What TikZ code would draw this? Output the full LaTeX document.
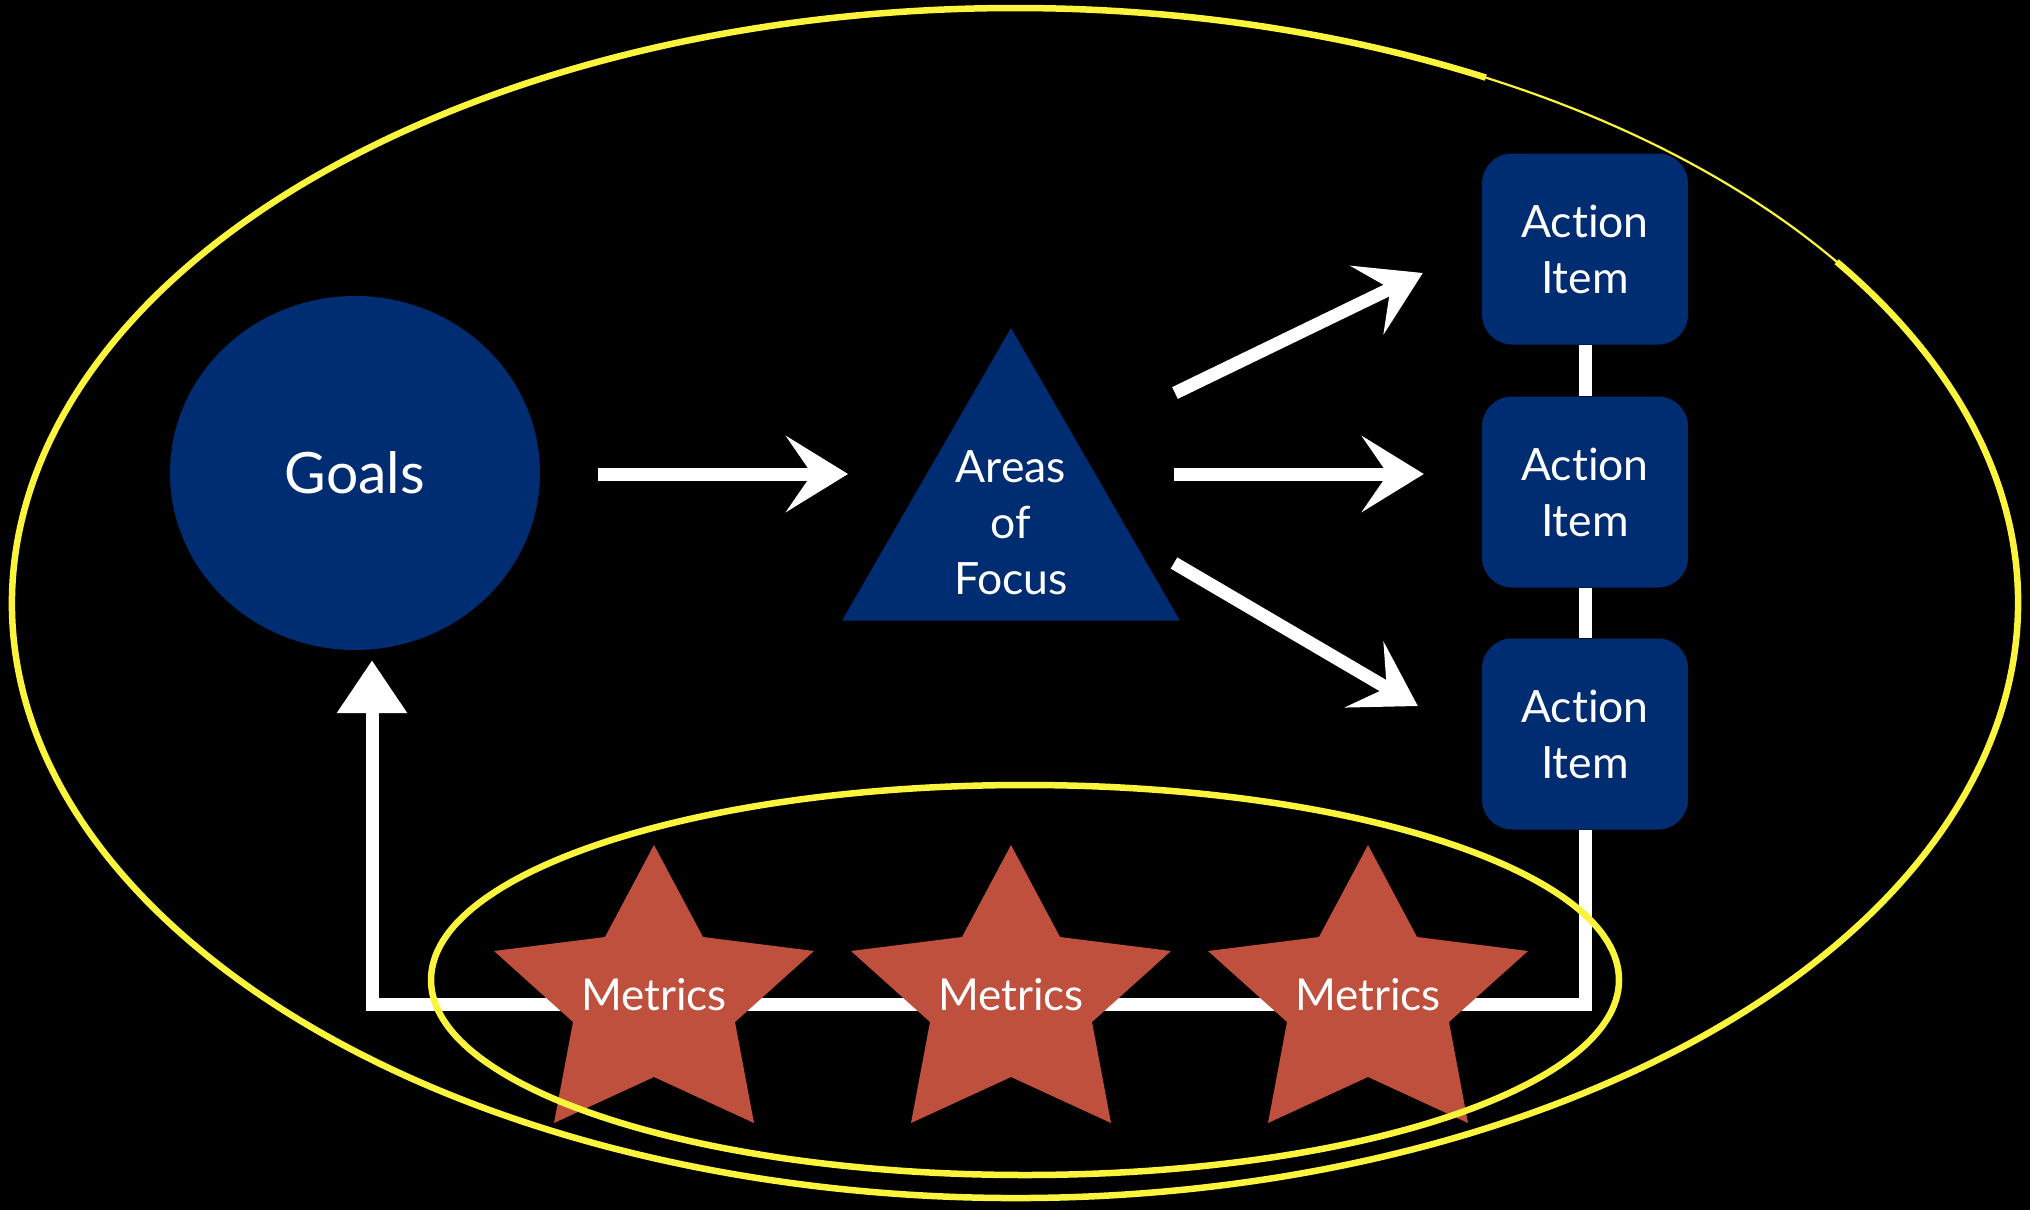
\documentclass[tikz,border=0pt]{standalone}
\usepackage{fontspec}
\setmainfont{Lato}[Ligatures=NoCommon]
\usetikzlibrary{shapes.geometric, arrows.meta, calc}

\definecolor{navy}{RGB}{0,45,114}
\definecolor{brick}{RGB}{192,80,62}
\definecolor{marker}{RGB}{250,245,60}

\tikzset{
  caption/.style={text=white, align=center, inner sep=0pt,
    font=\fontsize{44.5}{56}\selectfont},
  goalshape/.style={ellipse, fill=navy, minimum width=370pt, minimum height=354pt,
    inner sep=0pt, text=white, font=\fontsize{57}{66}\selectfont},
  focusshape/.style={regular polygon, regular polygon sides=3, fill=navy,
    minimum size=390pt, inner sep=0pt},
  actionbox/.style={rectangle, rounded corners=30pt, fill=navy,
    minimum width=206pt, minimum height=191pt, inner sep=0pt, caption},
  metricstar/.style={fill=brick},
  chalk/.style={draw=white, line width=13pt},
  chalkhead/.style={-{Stealth[length=62pt, width=76pt, inset=26pt]}},
  chalkup/.style={-{Triangle[length=53pt, width=67pt]}},
  ring/.style={draw=marker, line width=6.5pt},
  faintring/.style={draw=marker, line width=2.2pt},
}

\begin{document}
\begin{tikzpicture}[x=1pt, y=-1pt]
  % canvas
  \fill[black] (0,0) rectangle (2030,1210);
  \useasboundingbox (0,0) rectangle (2030,1210);

  % main shapes
  \node[goalshape] (goals) at (355,473) {Goals};
  \node[focusshape] (areas) at (1011,523) {};
  \node[caption] (areastext) at (areas.center) {Areas\\of\\Focus};
  \node[actionbox] (a1) at (1585,249) {Action\\Item};
  \node[actionbox] (a2) at (1585,492) {Action\\Item};
  \node[actionbox] (a3) at (1585,734) {Action\\Item};

  % links between the action items
  \draw[chalk] (a1) -- (a2);
  \draw[chalk] (a2) -- (a3);

  % flow arrows
  \draw[chalk, chalkhead] ([shift={(243,1)}]goals.center) -- ([shift={(-163,-49)}]areas.center);
  \draw[chalk, chalkhead] ([shift={(164,-130)}]areas.center) -- ([shift={(-59,24)}]a1.west);
  \draw[chalk, chalkhead] ([shift={(163,-49)}]areas.center) -- ([shift={(-58,-18)}]a2.west);
  \draw[chalk, chalkhead] ([shift={(163,40)}]areas.center) -- ([shift={(-64,-28)}]a3.west);

  % feedback loop back to the goals
  \draw[chalk, chalkup] (a3.south) -- ++(0,175) -| ([shift={(17,10)}]goals.south);

  % metrics stars
  \foreach \cx/\nm in {654/m1, 1011/m2, 1368/m3} {
    \fill[metricstar, shift={(\cx,845)}]
      (0,0) -- (49,92) -- (160,106) -- (81,177) -- (100,278) -- (0,232)
      -- (-100,278) -- (-81,177) -- (-160,106) -- (-49,92) -- cycle;
    \node[caption, anchor=base, font=\fontsize{44}{54}\selectfont] (\nm) at (\cx,1010) {Metrics};
  }

  % highlighter rings
  \draw[ring] ([shift={(-35:1003 and 595)}]1015,603)
    arc[start angle=-35, end angle=298, x radius=1003, y radius=595];
  \draw[faintring] ([shift={(-62:1003 and 595)}]1015,603)
    arc[start angle=-62, end angle=-35, x radius=1003, y radius=595];
  \draw[ring] (1025,980) ellipse [x radius=594, y radius=195];
\end{tikzpicture}
\end{document}
